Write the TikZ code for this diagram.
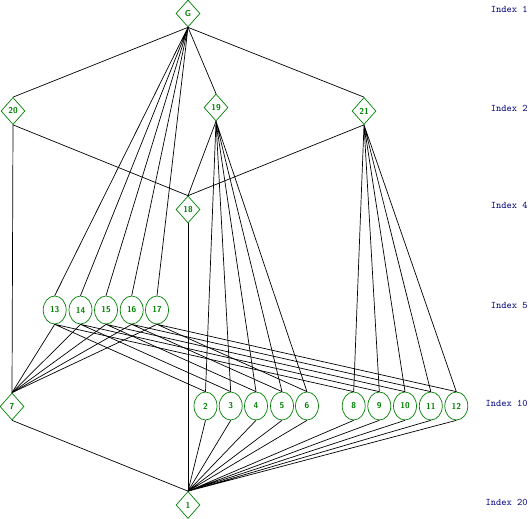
\documentclass[tikz,border=0pt]{standalone}
\usepackage{tikz}
\usetikzlibrary{shapes.geometric}
\usepackage{xcolor}

\begin{document}
\begin{tikzpicture}[x=1pt, y=-1pt, line width=0.7pt]
    \tikzstyle{normal} = [draw=green!50!black, line width=0.7pt, shape=diamond, inner sep=0pt,
        minimum width=24pt, minimum height=27pt, text=green!50!black,
        font=\sffamily\bfseries\fontsize{8.5}{8.5}\selectfont]
    \tikzstyle{conj} = [draw=green!50!black, line width=0.7pt, shape=ellipse, inner sep=0pt,
        minimum width=23pt, minimum height=28pt, text=green!50!black,
        font=\sffamily\bfseries\fontsize{8.5}{8.5}\selectfont]
    \tikzstyle{index} = [anchor=east, inner sep=0pt, text=blue!50!black,
        font=\ttfamily\fontsize{10}{10}\selectfont]
    \useasboundingbox (0,0) rectangle (530,519);
    % subgroups, one row per index
    \node [normal] at (188,13.5) (G) {G};
    \node [normal] at (13,111) (20) {20};
    \node [normal] at (216,107.5) (19) {19};
    \node [normal] at (364,111) (21) {21};
    \node [normal] at (188,209.5) (18) {18};
    \node [conj] at (54.7,310) (13) {13};
    \node [conj] at (80.5,310) (14) {14};
    \node [conj] at (106,310) (15) {15};
    \node [conj] at (131.7,310) (16) {16};
    \node [conj] at (157,310) (17) {17};
    \node [normal] at (12,406.5) (7) {7};
    \node [conj] at (205.5,406) (2) {2};
    \node [conj] at (230.7,406) (3) {3};
    \node [conj] at (256,406) (4) {4};
    \node [conj] at (282,406) (5) {5};
    \node [conj] at (307,406) (6) {6};
    \node [conj] at (353.7,406) (8) {8};
    \node [conj] at (379.3,406) (9) {9};
    \node [conj] at (405,406) (10) {10};
    \node [conj] at (430.8,406) (11) {11};
    \node [conj] at (456.3,406) (12) {12};
    \node [normal] at (188,505) (1) {1};
    % index labels
    \node [index] at (528,9) (i1) {Index 1};
    \node [index] at (528,108.5) (i2) {Index 2};
    \node [index] at (528,205.5) (i4) {Index 4};
    \node [index] at (528,305) (i5) {Index 5};
    \node [index] at (528,403) (i10) {Index 10};
    \node [index] at (528,502) (i20) {Index 20};
    % inclusions
    \draw (G.south) -- (20.north) (G.south) -- (19.north) (G.south) -- (21.north);
    \draw (G.south) -- (13.north) (G.south) -- (14.north) (G.south) -- (15.north);
    \draw (G.south) -- (16.north) (G.south) -- (17.north);
    \draw (20.south) -- (18.north) (19.south) -- (18.north) (21.south) -- (18.north);
    \draw (20.south) -- (7.north);
    \draw (19.south) -- (2.north) (19.south) -- (3.north) (19.south) -- (4.north);
    \draw (19.south) -- (5.north) (19.south) -- (6.north);
    \draw (21.south) -- (8.north) (21.south) -- (9.north) (21.south) -- (10.north);
    \draw (21.south) -- (11.north) (21.south) -- (12.north);
    \draw (18.south) -- (1.north);
    \draw (13.south) -- (7.north) (13.south) -- (2.north) (13.south) -- (8.north);
    \draw (14.south) -- (7.north) (14.south) -- (3.north) (14.south) -- (9.north);
    \draw (15.south) -- (7.north) (15.south) -- (4.north) (15.south) -- (10.north);
    \draw (16.south) -- (7.north) (16.south) -- (5.north) (16.south) -- (11.north);
    \draw (17.south) -- (7.north) (17.south) -- (6.north) (17.south) -- (12.north);
    \draw (7.south) -- (1.north) (2.south) -- (1.north) (3.south) -- (1.north);
    \draw (4.south) -- (1.north) (5.south) -- (1.north) (6.south) -- (1.north);
    \draw (8.south) -- (1.north) (9.south) -- (1.north) (10.south) -- (1.north);
    \draw (11.south) -- (1.north) (12.south) -- (1.north);
\end{tikzpicture}
\end{document}
